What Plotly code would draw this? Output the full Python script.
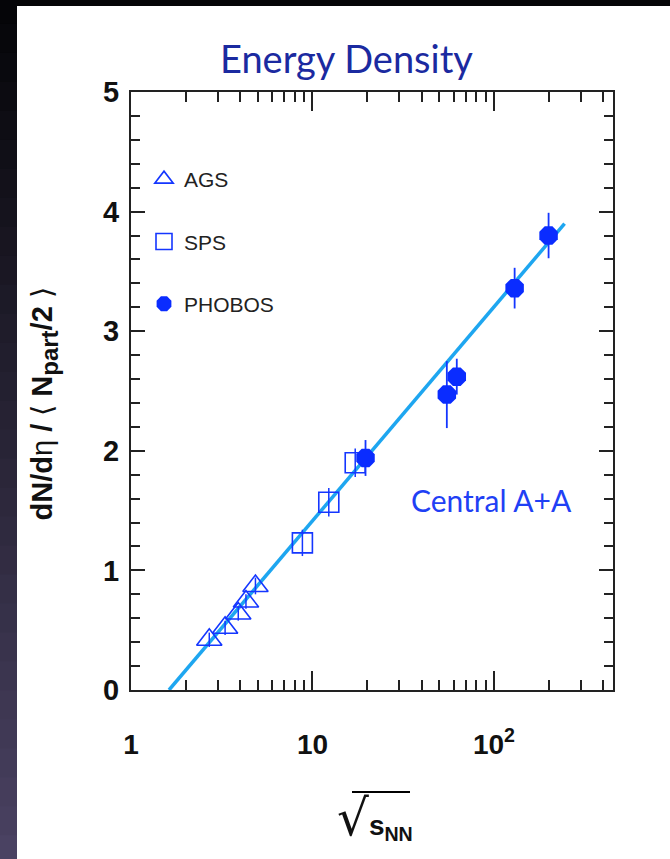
import plotly.graph_objects as go

# ---- data ----
ags_x = [2.7, 3.3, 3.9, 4.3, 4.85]
ags_y = [0.42, 0.52, 0.64, 0.74, 0.87]
ags_err = [0.06, 0.06, 0.06, 0.06, 0.07]

sps_x = [8.8, 12.3, 17.2]
sps_y = [1.23, 1.57, 1.90]
sps_err = [0.11, 0.12, 0.12]

phobos_x = [19.6, 55.0, 62.4, 130.0, 200.0]
phobos_y = [1.94, 2.47, 2.62, 3.36, 3.80]
phobos_err = [0.15, 0.28, 0.15, 0.17, 0.19]

fit_x = [1.62, 245.0]
fit_y = [0.0, 3.90]

x_tickvals = [1, 10, 100]
x_ticktext = ["1", "10", "10<sup>2</sup>"]
x_minor = [2, 3, 4, 5, 6, 7, 8, 9, 20, 30, 40, 50, 60, 70, 80, 90, 200, 300, 400]
y_tickvals = [0, 1, 2, 3, 4, 5]

# ---- layout geometry (pixels) ----
W, H = 670, 859
L, R, T, B = 131, 613, 92, 690
pw, ph = R - L, B - T


def px(xp):
    return (xp - L) / pw


def py(yp):
    return (B - yp) / ph


BLUE = "#1436ff"
fig = go.Figure()

fig.add_trace(go.Scatter(
    x=fit_x, y=fit_y, mode="lines", line=dict(color="#1ea6f0", width=3.5),
    showlegend=False, hoverinfo="skip"))

fig.add_trace(go.Scatter(
    x=ags_x, y=ags_y, mode="markers", name="AGS", legendgroup="a",
    marker=dict(symbol="triangle-up-open", size=22, color=BLUE, line=dict(width=1.6, color=BLUE)),
    error_y=dict(type="data", array=ags_err, color=BLUE, thickness=1.5, width=0)))

fig.add_trace(go.Scatter(
    x=sps_x, y=sps_y, mode="markers", name="SPS", legendgroup="b",
    marker=dict(symbol="square-open", size=20, color=BLUE, line=dict(width=1.6, color=BLUE)),
    error_y=dict(type="data", array=sps_err, color=BLUE, thickness=1.5, width=0)))

fig.add_trace(go.Scatter(
    x=phobos_x, y=phobos_y, mode="markers", name="PHOBOS", legendgroup="c",
    marker=dict(symbol="octagon", size=20, color="#0a2cff", line=dict(width=0)),
    error_y=dict(type="data", array=phobos_err, color=BLUE, thickness=1.8, width=0)))

# background: dark strips on top/left with gradient
shapes = []
shapes.append(dict(type="rect", xref="paper", yref="paper", x0=px(-5), x1=px(W + 5),
                   y0=py(6), y1=py(-5), fillcolor="#050507", line=dict(width=0), layer="below"))
n = 30
c0 = (5, 5, 8)
c1 = (74, 66, 98)
for i in range(n):
    t = i / (n - 1)
    col = tuple(int(c0[k] + (c1[k] - c0[k]) * t) for k in range(3))
    y0 = -5 + (H + 10) * i / n
    y1 = -5 + (H + 10) * (i + 1) / n + 3
    shapes.append(dict(type="rect", xref="paper", yref="paper", x0=px(-5), x1=px(17),
                       y0=py(y1), y1=py(y0), fillcolor="rgb(%d,%d,%d)" % col,
                       line=dict(width=0), layer="below"))
# overline of sqrt in x title
shapes.append(dict(type="line", xref="paper", yref="paper", x0=px(352), x1=px(410),
                   y0=py(792), y1=py(792), line=dict(color="black", width=2)))

annotations = [
    dict(text="Energy Density", x=px(346), y=py(58), xref="paper", yref="paper",
         showarrow=False, xanchor="center", yanchor="middle",
         font=dict(family="Lato", size=38, color="#1b2aa0")),
    dict(text="Central A+A", x=px(491), y=py(500), xref="paper", yref="paper",
         showarrow=False, xanchor="center", yanchor="middle",
         font=dict(family="Lato", size=30, color="#1f40f5")),
    dict(text="<b>dN/d</b>η<b> / </b>⟨<b> N<sub><span style='font-size:24px'>part</span></sub>/2 </b>⟩",
         textangle=-90,
         x=px(44), y=py(523), xref="paper", yref="paper",
         showarrow=False, xanchor="center", yanchor="bottom",
         font=dict(family="Liberation Sans", size=29, color="#111")),
    dict(text="<span style='font-family:DejaVu Sans;font-weight:normal;font-size:50px'>√</span>s<sub>NN</sub>",
         x=px(375), y=py(818), xref="paper", yref="paper",
         showarrow=False, xanchor="center", yanchor="middle",
         font=dict(family="Liberation Sans", size=28, color="#111", weight="bold")),
]

fig.update_layout(
    width=W, height=H,
    margin=dict(l=L, r=W - R, t=T, b=H - B),
    paper_bgcolor="white", plot_bgcolor="white",
    shapes=shapes, annotations=annotations,
    showlegend=True,
    legend=dict(x=px(144), y=py(159), xanchor="left", yanchor="top",
                bgcolor="rgba(0,0,0,0)", tracegroupgap=32,
                font=dict(family="Liberation Sans", size=21, color="#222"),
                itemsizing="trace"),
    xaxis=dict(type="log", range=[0, 2.656], tickvals=x_tickvals, ticktext=x_ticktext,
               ticks="inside", ticklen=19, tickwidth=1.8, tickcolor="#222",
               showline=True, linecolor="#222", linewidth=2, mirror="allticks",
               showgrid=False, zeroline=False, ticklabelstandoff=28,
               tickfont=dict(family="Liberation Sans", size=28, color="#111", weight="bold"),
               minor=dict(tickvals=x_minor, ticks="inside", ticklen=10, tickwidth=1.8,
                          tickcolor="#222", showgrid=False)),
    yaxis=dict(range=[0, 5], tickvals=y_tickvals,
               ticks="inside", ticklen=14, tickwidth=1.8, tickcolor="#222",
               showline=True, linecolor="#222", linewidth=2, mirror="allticks",
               showgrid=False, zeroline=False, ticklabelstandoff=4,
               tickfont=dict(family="Liberation Sans", size=29, color="#111", weight="bold"),
               minor=dict(dtick=0.2, ticks="inside", ticklen=9, tickwidth=1.8,
                          tickcolor="#222", showgrid=False)),
)

fig.write_html("out.html")
